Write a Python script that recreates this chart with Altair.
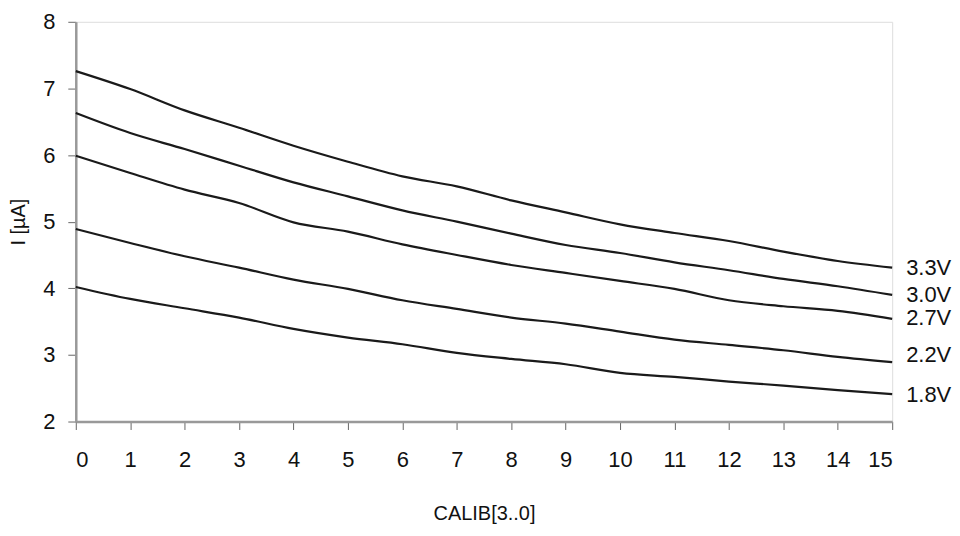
import altair as alt
import pandas as pd

calib = list(range(16))
series_names = ["3.3V", "3.0V", "2.7V", "2.2V", "1.8V"]
v33 = [7.26, 6.99, 6.67, 6.41, 6.14, 5.90, 5.68, 5.53, 5.32, 5.14, 4.96, 4.83, 4.71, 4.55, 4.41, 4.31]
v30 = [6.63, 6.33, 6.09, 5.84, 5.59, 5.38, 5.17, 5.00, 4.82, 4.65, 4.53, 4.39, 4.27, 4.14, 4.03, 3.90]
v27 = [5.99, 5.73, 5.48, 5.28, 4.99, 4.85, 4.66, 4.50, 4.35, 4.23, 4.11, 3.99, 3.82, 3.73, 3.66, 3.54]
v22 = [4.89, 4.68, 4.48, 4.31, 4.13, 3.99, 3.82, 3.69, 3.56, 3.47, 3.35, 3.23, 3.15, 3.07, 2.97, 2.89]
v18 = [4.02, 3.84, 3.70, 3.56, 3.39, 3.26, 3.16, 3.03, 2.94, 2.86, 2.73, 2.67, 2.60, 2.54, 2.47, 2.41]
y_ticks = [2, 3, 4, 5, 6, 7, 8]
label_y = [4.31, 3.90, 3.56, 3.00, 2.40]

rows = []
for name, vals in zip(series_names, [v33, v30, v27, v22, v18]):
    for c, v in zip(calib, vals):
        rows.append({"calib": c, "I": v, "series": name})
df = pd.DataFrame(rows)
lab = pd.DataFrame({"calib": [15] * 5, "I": label_y, "series": series_names})

FONT = "Liberation Sans"
x_scale = alt.Scale(domain=[0, 15], nice=False, zero=False)
y_scale = alt.Scale(domain=[2, 8], nice=False, zero=False)

lines = alt.Chart(df).mark_line(color="#1a1a1a", strokeWidth=2.2, interpolate="monotone").encode(
    x=alt.X("calib:Q", scale=x_scale,
            axis=alt.Axis(title="CALIB[3..0]", values=calib, format="d", grid=False,
                          tickSize=8, tickColor="#666", domainColor="#999", domainWidth=2.5,
                          labelFontSize=22, labelFont=FONT, labelColor="#111", labelPadding=20,
                          titleFontSize=20, titleFont=FONT, titleFontWeight="normal", titleColor="#111",
                          titlePadding=33)),
    y=alt.Y("I:Q", scale=y_scale,
            axis=alt.Axis(title="I [µA]", values=y_ticks, format="d", grid=False,
                          tickSize=8, tickColor="#666", domainColor="#999", domainWidth=2.5,
                          labelFontSize=22, labelFont=FONT, labelColor="#111", labelPadding=13,
                          titleFontSize=20, titleFont=FONT, titleFontWeight="normal", titleColor="#111",
                          titlePadding=14)),
    detail="series:N",
)

labels = alt.Chart(lab).mark_text(align="left", baseline="middle", dx=14, fontSize=22,
                                  font=FONT, color="#111").encode(
    x=alt.X("calib:Q", scale=x_scale),
    y=alt.Y("I:Q", scale=y_scale),
    text="series:N",
)

chart = (lines + labels).properties(
    width=819, height=401,
    autosize=alt.AutoSizeParams(type="none"),
    padding={"left": 68, "top": 13, "right": 60, "bottom": 112},
).configure_view(stroke="#999", strokeWidth=2.5).configure(background="white")

chart.save("out.html", embed_options={"renderer": "svg", "actions": False})
